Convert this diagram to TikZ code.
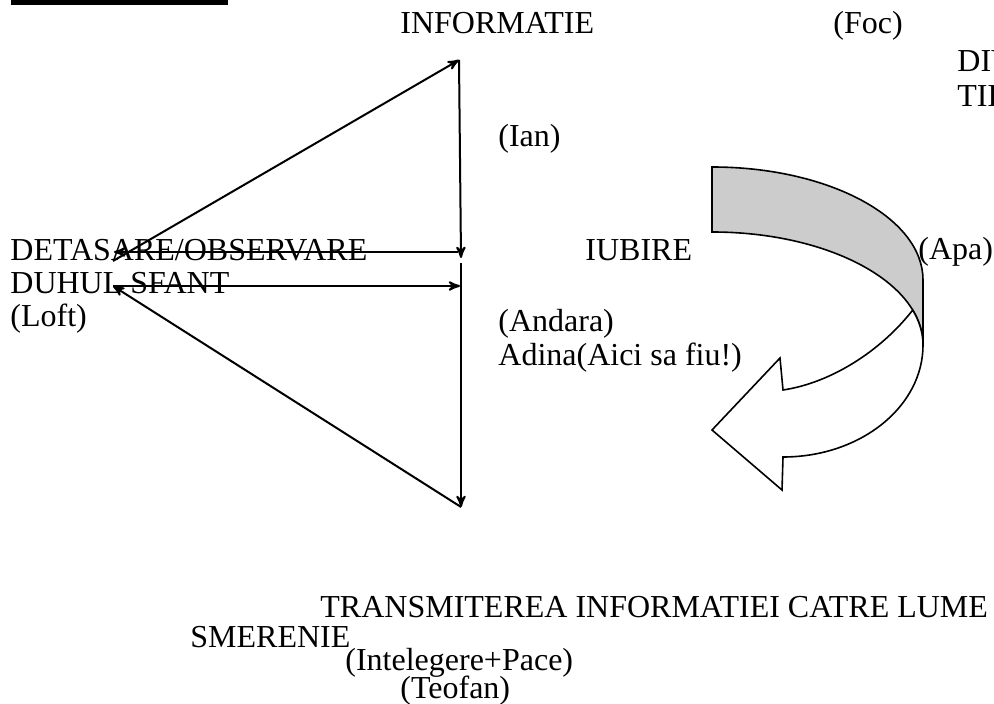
\documentclass[tikz,border=0pt]{standalone}
\usepackage{fontspec}
\setmainfont{Liberation Serif}
\usetikzlibrary{arrows}

\begin{document}
\begin{tikzpicture}[x=0.5pt,y=-0.5pt,>=stealth',auto]
		\tikzstyle{word}=[inner sep=0pt, anchor=base west, font=\fontsize{16}{17}\selectfont]
		\tikzstyle{flow}=[->, line width=1pt]
		\tikzstyle{back band}=[fill=black!20, draw=black, line width=0.8pt]
		\tikzstyle{front band}=[fill=white, draw=black, line width=0.8pt]

		\useasboundingbox (0,0) rectangle (994,704);
		\clip (0,0) rectangle (994,704);

		% underline of the heading, cut by the top edge
		\draw [line width=2.5pt] (11,2.5) -- (228,2.5);

		\node [word] (inf) at (400,34) {INFORMATIE};
		\node [word] (foc) at (833,34) {(Foc)};
		\node [word] (div) at (957,72) {DIV};
		\node [word] (tie) at (957,107) {TIE};
		\node [word] (ian) at (498,147) {(Ian)};
		\node [word] (det) at (10,261) {DETASARE/OBSERVARE};
		\node [word] (iub) at (585,261) {IUBIRE};
		\node [word] (apa) at (918,260) {(Apa)};
		\node [word] (duh) at (10,294) {DUHUL SFANT};
		\node [word] (loft) at (10,327) {(Loft)};
		\node [word] (and) at (498,332) {(Andara)};
		\node [word] (adi) at (498,366) {Adina(Aici sa fiu!)};
		\node [word] (tra) at (320,617) {TRANSMITEREA INFORMATIEI CATRE LUME};
		\node [word] (sme) at (190,647) {SMERENIE};
		\node [word] (int) at (345,670) {(Intelegere+Pace)};
		\node [word] (teo) at (400,698) {(Teofan)};

		% upper triangle
		\coordinate (l1) at (113,261);
		\coordinate (t1) at (459,60);
		\coordinate (b1) at (461,258);
		\coordinate (m1) at (458,252);
		\coordinate (e1) at (114,252);
		\draw [flow] (l1) -- (t1);
		\draw [flow] (t1) -- (b1);
		\draw [flow] (m1) -- (e1);

		% lower triangle
		\coordinate (l2) at (113,286);
		\coordinate (r2) at (460,286);
		\coordinate (t2) at (461,263);
		\coordinate (b2) at (461,507);
		\draw [flow] (l2) -- (r2);
		\draw [flow] (t2) -- (b2);
		\draw [flow] (b2) -- (l2);

		% curved arrow
		\path [back band] (712,167) arc [start angle=-90, end angle=0, x radius=211, y radius=113]
			-- (923,345) arc [start angle=0, end angle=-90, x radius=211, y radius=113] -- cycle;
		\path [front band] (783,457) arc [start angle=90, end angle=0, x radius=140, y radius=112]
			arc [start angle=0, end angle=-18, x radius=211, y radius=113]
			.. controls (880,352) and (830,383) .. (783,390)
			-- (780,358) -- (712,430) -- (782,490) -- cycle;
	\end{tikzpicture}
\end{document}
